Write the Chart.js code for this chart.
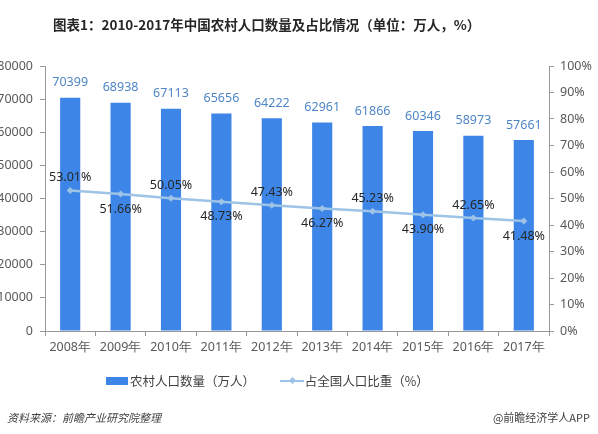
<!DOCTYPE html>
<html>
<head>
<meta charset="utf-8">
<script src="https://cdn.jsdelivr.net/npm/chart.js@4"></script>
<style>
  body { margin: 0; background: #fff; }
  #wrap { position: relative; width: 598px; height: 434px; overflow: hidden; font-family: "Noto Sans CJK SC", "Noto Sans", sans-serif; }
  #title { position: absolute; top: 14px; left: 53px; font-size: 13.5px; font-weight: bold; color: #262626; white-space: nowrap; }
  #legend { position: absolute; top: 369px; left: 106px; font-size: 12.5px; color: #404040; white-space: nowrap; }
  #legend span { display: inline-block; vertical-align: middle; }
  .sw-bar { width: 22px; height: 8px; background: #3d86e8; margin-right: 2px; }
  .sw-line { width: 24px; height: 2px; background: #9dc3e6; position: relative; margin-left: 22px; margin-right: 1px; }
  .sw-line:after { content: ""; position: absolute; left: 10px; top: -2px; width: 5px; height: 5px; background: #9dc3e6; transform: rotate(45deg); }
  #src { position: absolute; top: 409px; left: 7px; font-size: 11px; font-style: italic; color: #404040; }
  #brand { position: absolute; top: 409px; right: 8px; font-size: 11px; color: #404040; }
  canvas { position: absolute; left: 0; top: 0; }
</style>
</head>
<body>
<div id="wrap">
  <canvas id="chart" width="598" height="434"></canvas>
  <div id="title">图表1：2010-2017年中国农村人口数量及占比情况（单位：万人，%）</div>
  <div id="legend">
    <span class="sw-bar"></span><span>农村人口数量（万人）</span>
    <span class="sw-line"></span><span>占全国人口比重（%）</span>
  </div>
  <div id="src">资料来源：前瞻产业研究院整理</div>
  <div id="brand">@前瞻经济学人APP</div>
</div>
<script>
const years = ['2008年', '2009年', '2010年', '2011年', '2012年', '2013年', '2014年', '2015年', '2016年', '2017年'];
const ruralPop = [70399, 68938, 67113, 65656, 64222, 62961, 61866, 60346, 58973, 57661];
const ruralShare = [53.01, 51.66, 50.05, 48.73, 47.43, 46.27, 45.23, 43.90, 42.65, 41.48];

const labelPlugin = {
    id: 'valueLabels',
    afterDatasetsDraw(chart) {
        const ctx = chart.ctx;
        ctx.save();
        ctx.textAlign = 'center';
        ctx.textBaseline = 'middle';
        ctx.font = '12.5px "Noto Sans", sans-serif';

        // bar values
        ctx.fillStyle = '#4f86c6';
        chart.getDatasetMeta(0).data.forEach((bar, i) => {
            ctx.fillText(ruralPop[i], bar.x, bar.y - 15);
        });

        // percentages, alternating above / below
        ctx.fillStyle = '#262626';
        chart.getDatasetMeta(1).data.forEach((pt, i) => {
            const dy = i % 2 === 0 ? -13 : 15;
            ctx.fillText(ruralShare[i].toFixed(2) + '%', pt.x, pt.y + dy);
        });
        ctx.restore();
    }
};

const tickFont = { family: '"Noto Sans", sans-serif', size: 12.5 };
const axisGrid = { display: true, drawOnChartArea: false, drawTicks: true, tickLength: 5, color: '#999999' };

new Chart(document.getElementById('chart').getContext('2d'), {
    type: 'bar',
    data: {
        labels: years,
        datasets: [{
            label: '农村人口数量（万人）',
            data: ruralPop,
            backgroundColor: '#3d86e8',
            barPercentage: 0.4,
            categoryPercentage: 1,
            yAxisID: 'y',
            order: 2
        }, {
            type: 'line',
            label: '占全国人口比重（%）',
            data: ruralShare,
            borderColor: '#9dc3e6',
            backgroundColor: '#9dc3e6',
            borderWidth: 2.5,
            pointStyle: 'rectRot',
            pointRadius: 3.5,
            pointBorderWidth: 0,
            yAxisID: 'y1',
            order: 1
        }]
    },
    options: {
        responsive: false,
        animation: false,
        layout: { padding: { top: 66, bottom: 0, left: 0, right: 0 } },
        plugins: {
            legend: { display: false },
            title: { display: false },
            tooltip: { enabled: false }
        },
        scales: {
            x: {
                offset: true,
                grid: { ...axisGrid, offset: true },
                border: { color: '#999999' },
                ticks: { font: tickFont, color: '#595959', padding: 4, maxRotation: 0 },
                afterFit: (s) => { s.height = 103; }
            },
            y: {
                position: 'left',
                min: 0,
                max: 80000,
                grid: axisGrid,
                border: { color: '#999999' },
                ticks: { stepSize: 10000, font: tickFont, color: '#595959', padding: 7, callback: v => String(v) },
                afterFit: (s) => { s.width = 45; }
            },
            y1: {
                position: 'right',
                min: 0,
                max: 100,
                grid: axisGrid,
                border: { color: '#999999' },
                ticks: { stepSize: 10, font: tickFont, color: '#595959', padding: 6, callback: v => v + '%' },
                afterFit: (s) => { s.width = 49; }
            }
        }
    },
    plugins: [labelPlugin]
});
</script>
</body>
</html>
